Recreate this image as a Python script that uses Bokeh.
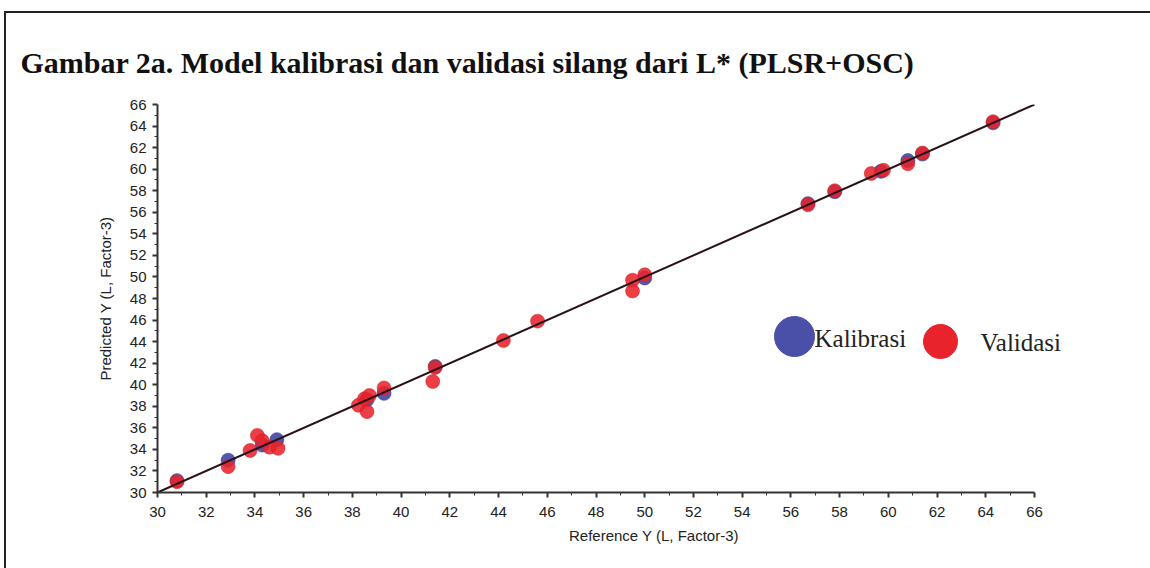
from bokeh.plotting import figure
from bokeh.models import Range1d, FixedTicker, Label, LinearAxis, Title
from bokeh.embed import file_html
from bokeh.resources import INLINE

# ---- data ----
title_text = "Gambar 2a. Model kalibrasi dan validasi silang dari L* (PLSR+OSC)"
x_label = "Reference Y (L, Factor-3)"
y_label = "Predicted Y (L, Factor-3)"
series_names = ["Kalibrasi", "Validasi"]

major_ticks = [30, 32, 34, 36, 38, 40, 42, 44, 46, 48, 50, 52, 54, 56, 58, 60, 62, 64, 66]
minor_ticks = [31, 33, 35, 37, 39, 41, 43, 45, 47, 49, 51, 53, 55, 57, 59, 61, 63, 65]
axis_bounds = (30, 66)

cal_ref = [30.8, 32.9, 34.3, 34.9, 38.6, 39.3, 41.4, 50.0, 56.7, 57.8, 59.7, 60.8, 61.4, 64.3]
cal_pred = [31.1, 33.0, 34.4, 34.9, 38.6, 39.2, 41.7, 49.9, 56.8, 57.9, 59.8, 60.8, 61.4, 64.3]

val_ref = [30.8, 32.9, 33.8, 34.1, 34.3, 34.6, 34.95, 38.25, 38.5, 38.7, 38.6, 39.3, 41.3, 41.4,
           44.2, 45.6, 49.5, 49.5, 50.0, 56.7, 57.8, 59.3, 59.8, 60.8, 61.4, 64.3]
val_pred = [31.0, 32.4, 33.9, 35.3, 34.8, 34.2, 34.1, 38.1, 38.7, 39.0, 37.5, 39.7, 40.3, 41.6,
            44.1, 45.9, 49.7, 48.7, 50.2, 56.7, 58.0, 59.6, 59.9, 60.5, 61.5, 64.4]

line_x = [30, 66]
line_y = [30, 66]

BLUE = "#4a4fa8"
RED = "#e8232b"

# ---- layout ----
FRAME_W = 993
FRAME_H = 388
PX_PER_X = 877.0 / 36.0
PX_PER_Y = FRAME_H / 36.0
x_end = 30 + FRAME_W / PX_PER_X

p = figure(frame_width=FRAME_W, frame_height=FRAME_H, output_backend="svg", toolbar_location=None,
           x_range=Range1d(30, x_end), y_range=Range1d(30, 66),
           x_axis_location=None, y_axis_location=None,
           min_border_left=151, min_border_right=0, min_border_top=91, min_border_bottom=76)
p.outline_line_color = None
p.xgrid.visible = False
p.ygrid.visible = False
p.background_fill_color = "white"
p.border_fill_color = "white"
p.styles = {"margin-top": "11px", "margin-left": "4px",
            "border-top": "2px solid #222", "border-left": "2px solid #222"}

def style_axis(ax, label):
    ax.ticker = FixedTicker(ticks=major_ticks, minor_ticks=minor_ticks)
    ax.bounds = axis_bounds
    ax.axis_label = label
    ax.axis_label_text_font = "Liberation Sans"
    ax.axis_label_text_font_style = "normal"
    ax.axis_label_text_font_size = "15px"
    ax.axis_label_text_color = "#222222"
    ax.major_label_text_font = "Liberation Sans"
    ax.major_label_text_font_size = "15px"
    ax.major_label_text_color = "#222222"
    ax.axis_line_color = "#333333"
    ax.axis_line_width = 2
    ax.major_tick_line_color = "#333333"
    ax.minor_tick_line_color = "#333333"
    ax.major_tick_line_width = 2
    ax.minor_tick_line_width = 1
    ax.major_tick_out = 5
    ax.major_tick_in = 0
    ax.minor_tick_out = 3
    ax.minor_tick_in = 0

xa = LinearAxis()
style_axis(xa, x_label)
xa.major_label_standoff = 9
xa.axis_label_standoff = 7
p.add_layout(xa, "below")

ya = LinearAxis()
style_axis(ya, y_label)
ya.major_label_standoff = 6
ya.axis_label_standoff = 13
p.add_layout(ya, "left")

# data points
p.scatter(cal_ref, cal_pred, size=14, marker="circle", fill_color=BLUE, fill_alpha=0.95,
          line_color="#3b3f90", line_alpha=0.6)
p.scatter(val_ref, val_pred, size=14, marker="circle", fill_color=RED, fill_alpha=0.88,
          line_color="#c81e26", line_alpha=0.5)
p.line(line_x, line_y, line_color="#2a1118", line_width=2)

# legend (manual, positioned in px relative to frame bottom-left)
def dx(sx):
    return 30 + sx / PX_PER_X
def dy(sy):
    return 30 + sy / PX_PER_Y

p.scatter([dx(637)], [dy(156)], size=40, marker="circle", fill_color=BLUE, line_color=BLUE)
p.scatter([dx(783)], [dy(151)], size=34, marker="circle", fill_color=RED, line_color=RED)
p.add_layout(Label(x=657, y=154, x_units="screen", y_units="screen", text=series_names[0],
                   text_font="Liberation Serif", text_font_size="25px", text_color="#222222",
                   text_baseline="middle", text_align="left"))
p.add_layout(Label(x=823, y=150, x_units="screen", y_units="screen", text=series_names[1],
                   text_font="Liberation Serif", text_font_size="25px", text_color="#222222",
                   text_baseline="middle", text_align="left"))

# title
p.title = Title(text=title_text, align="left", offset=-137, standoff=48, vertical_align="top",
                text_font="Liberation Serif", text_font_style="bold", text_font_size="30px",
                text_color="#111111")

open("out.html", "w").write(file_html(p, INLINE))
